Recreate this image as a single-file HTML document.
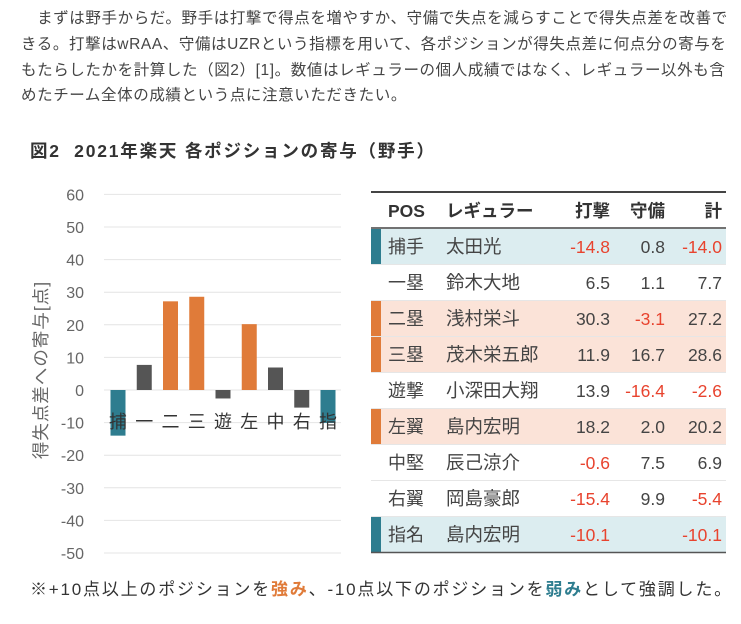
<!DOCTYPE html>
<html><head><meta charset="utf-8">
<style>
body{margin:0;width:741px;height:624px;background:#fff;overflow:hidden;font-family:"Liberation Sans","Noto Sans CJK JP",sans-serif;position:relative}
.p{position:absolute;left:21px;top:6px;font-size:15.5px;line-height:25.8px;color:#444;white-space:nowrap;letter-spacing:0.6px}
.title{position:absolute;left:30px;top:138px;font-size:17.5px;font-weight:bold;color:#333;white-space:nowrap;letter-spacing:1.8px}
.note{position:absolute;left:30px;top:575px;font-size:17px;color:#333;white-space:nowrap;letter-spacing:1.8px}
svg{position:absolute;left:0;top:0}
</style></head><body>
<div class="p">&#12288;まずは野手からだ。野手は打撃で得点を増やすか、守備で失点を減らすことで得失点差を改善で<br>きる。打撃はwRAA、守備はUZRという指標を用いて、各ポジションが得失点差に何点分の寄与を<br>もたらしたかを計算した（図2）[1]。数値はレギュラーの個人成績ではなく、レギュラー以外も含<br>めたチーム全体の成績という点に注意いただきたい。</div>
<div class="title">図2&nbsp; 2021年楽天 各ポジションの寄与（野手）</div>
<svg id="chart" width="741" height="624"></svg>
<div class="note">※+10点以上のポジションを<span style="color:#e07b39;font-weight:bold">強み</span>、-10点以下のポジションを<span style="color:#2e7d8f;font-weight:bold">弱み</span>として強調した。</div>
<script>
const categories=["捕","一","二","三","遊","左","中","右","指"];
const values=[-14.0,7.7,27.2,28.6,-2.6,20.2,6.9,-5.4,-10.1];
const ticks=[60,50,40,30,20,10,0,-10,-20,-30,-40,-50];
const posNames=["捕手","一塁","二塁","三塁","遊撃","左翼","中堅","右翼","指名"];
const players=["太田光","鈴木大地","浅村栄斗","茂木栄五郎","小深田大翔","島内宏明","辰己涼介","岡島豪郎","島内宏明"];
const batting=["-14.8","6.5","30.3","11.9","13.9","18.2","-0.6","-15.4","-10.1"];
const fielding=["0.8","1.1","-3.1","16.7","-16.4","2.0","7.5","9.9",""];
const totals=["-14.0","7.7","27.2","28.6","-2.6","20.2","6.9","-5.4","-10.1"];

const NS="http://www.w3.org/2000/svg";
const svg=document.getElementById('chart');
function mk(t,a,txt){const e=document.createElementNS(NS,t);for(const k in a)e.setAttribute(k,a[k]);if(txt!==undefined)e.textContent=txt;svg.appendChild(e);return e;}
const y=v=>390-v*3.26;
const x=i=>118+i*26.25;
function colorFor(v){return v>=10?"#e07b39":(v<=-10?"#2e7d8f":"#555");}
ticks.forEach(t=>{
 const g=mk('line',{x1:104,x2:341,y1:y(t),y2:y(t),stroke:"#e4e4e4","stroke-width":1});
 
 
 const l=mk('text',{x:84,y:y(t)+6,"text-anchor":"end","font-size":16,fill:"#666"},t);
 
 
});
values.forEach((v,i)=>{
 const b=mk('rect',{x:x(i)-7.5,width:15,y:Math.min(y(v),y(0)),height:Math.abs(y(v)-y(0)),fill:colorFor(v)});
 
 
});
categories.forEach((c,i)=>{
 const t=mk('text',{x:x(i),y:428,"text-anchor":"middle","font-size":18,fill:"#333"},c);
 
 
});
const yt=mk('text',{x:0,y:0,transform:"translate(47,370) rotate(-90)","text-anchor":"middle","font-size":17.5,fill:"#666","letter-spacing":1},"得失点差への寄与[点]");



// table
const tx0=371,tx1=726,tTop=192,rh=36;
const hl=mk('line',{x1:tx0,x2:tx1,y1:tTop,y2:tTop,stroke:"#444","stroke-width":2});


[["POS",388,"start"],["レギュラー",446,"start"],["打撃",610,"end"],["守備",665,"end"],["計",722,"end"]].forEach(h=>{
 const t=mk('text',{x:h[1],y:tTop+25,"text-anchor":h[2],"font-size":17.5,"font-weight":"bold",fill:"#333"},h[0]);
 
 
});
const hl2=mk('line',{x1:tx0,x2:tx1,y1:tTop+36,y2:tTop+36,stroke:"#444","stroke-width":1.5});


posNames.forEach((p,i)=>{
 const ry=tTop+37+i*rh;
 const v=parseFloat(totals[i]);
 const strong=v>=10, weak=v<=-10;
 if(strong||weak){
  const bg=mk('rect',{x:tx0,y:ry,width:tx1-tx0,height:rh-1,fill:strong?"#fbe3d8":"#dcedf0"});
  
  
  const ac=mk('rect',{x:tx0,y:ry,width:10,height:rh-1,fill:strong?"#e07b39":"#2e7d8f"});
  
  
 }
 const ln=mk('line',{x1:tx0,x2:tx1,y1:ry+rh-0.5,y2:ry+rh-0.5,stroke:i==8?"#555":"#e6e6e6","stroke-width":i==8?1.5:1});
 
 
 const cy=ry+24;
 const a=mk('text',{x:388,y:cy,"font-size":18,fill:"#444"},p);
 
 
 const b=mk('text',{x:446,y:cy,"font-size":18.5,fill:"#444"},players[i]);
 
 
 [[batting[i],610],[fielding[i],665],[totals[i],722]].forEach(c=>{
  const t=mk('text',{x:c[1],y:cy,"text-anchor":"end","font-size":17.5,fill:c[0].startsWith('-')?"#e8432e":"#444"},c[0]);
  
  
 });
});
</script>
</body></html>
